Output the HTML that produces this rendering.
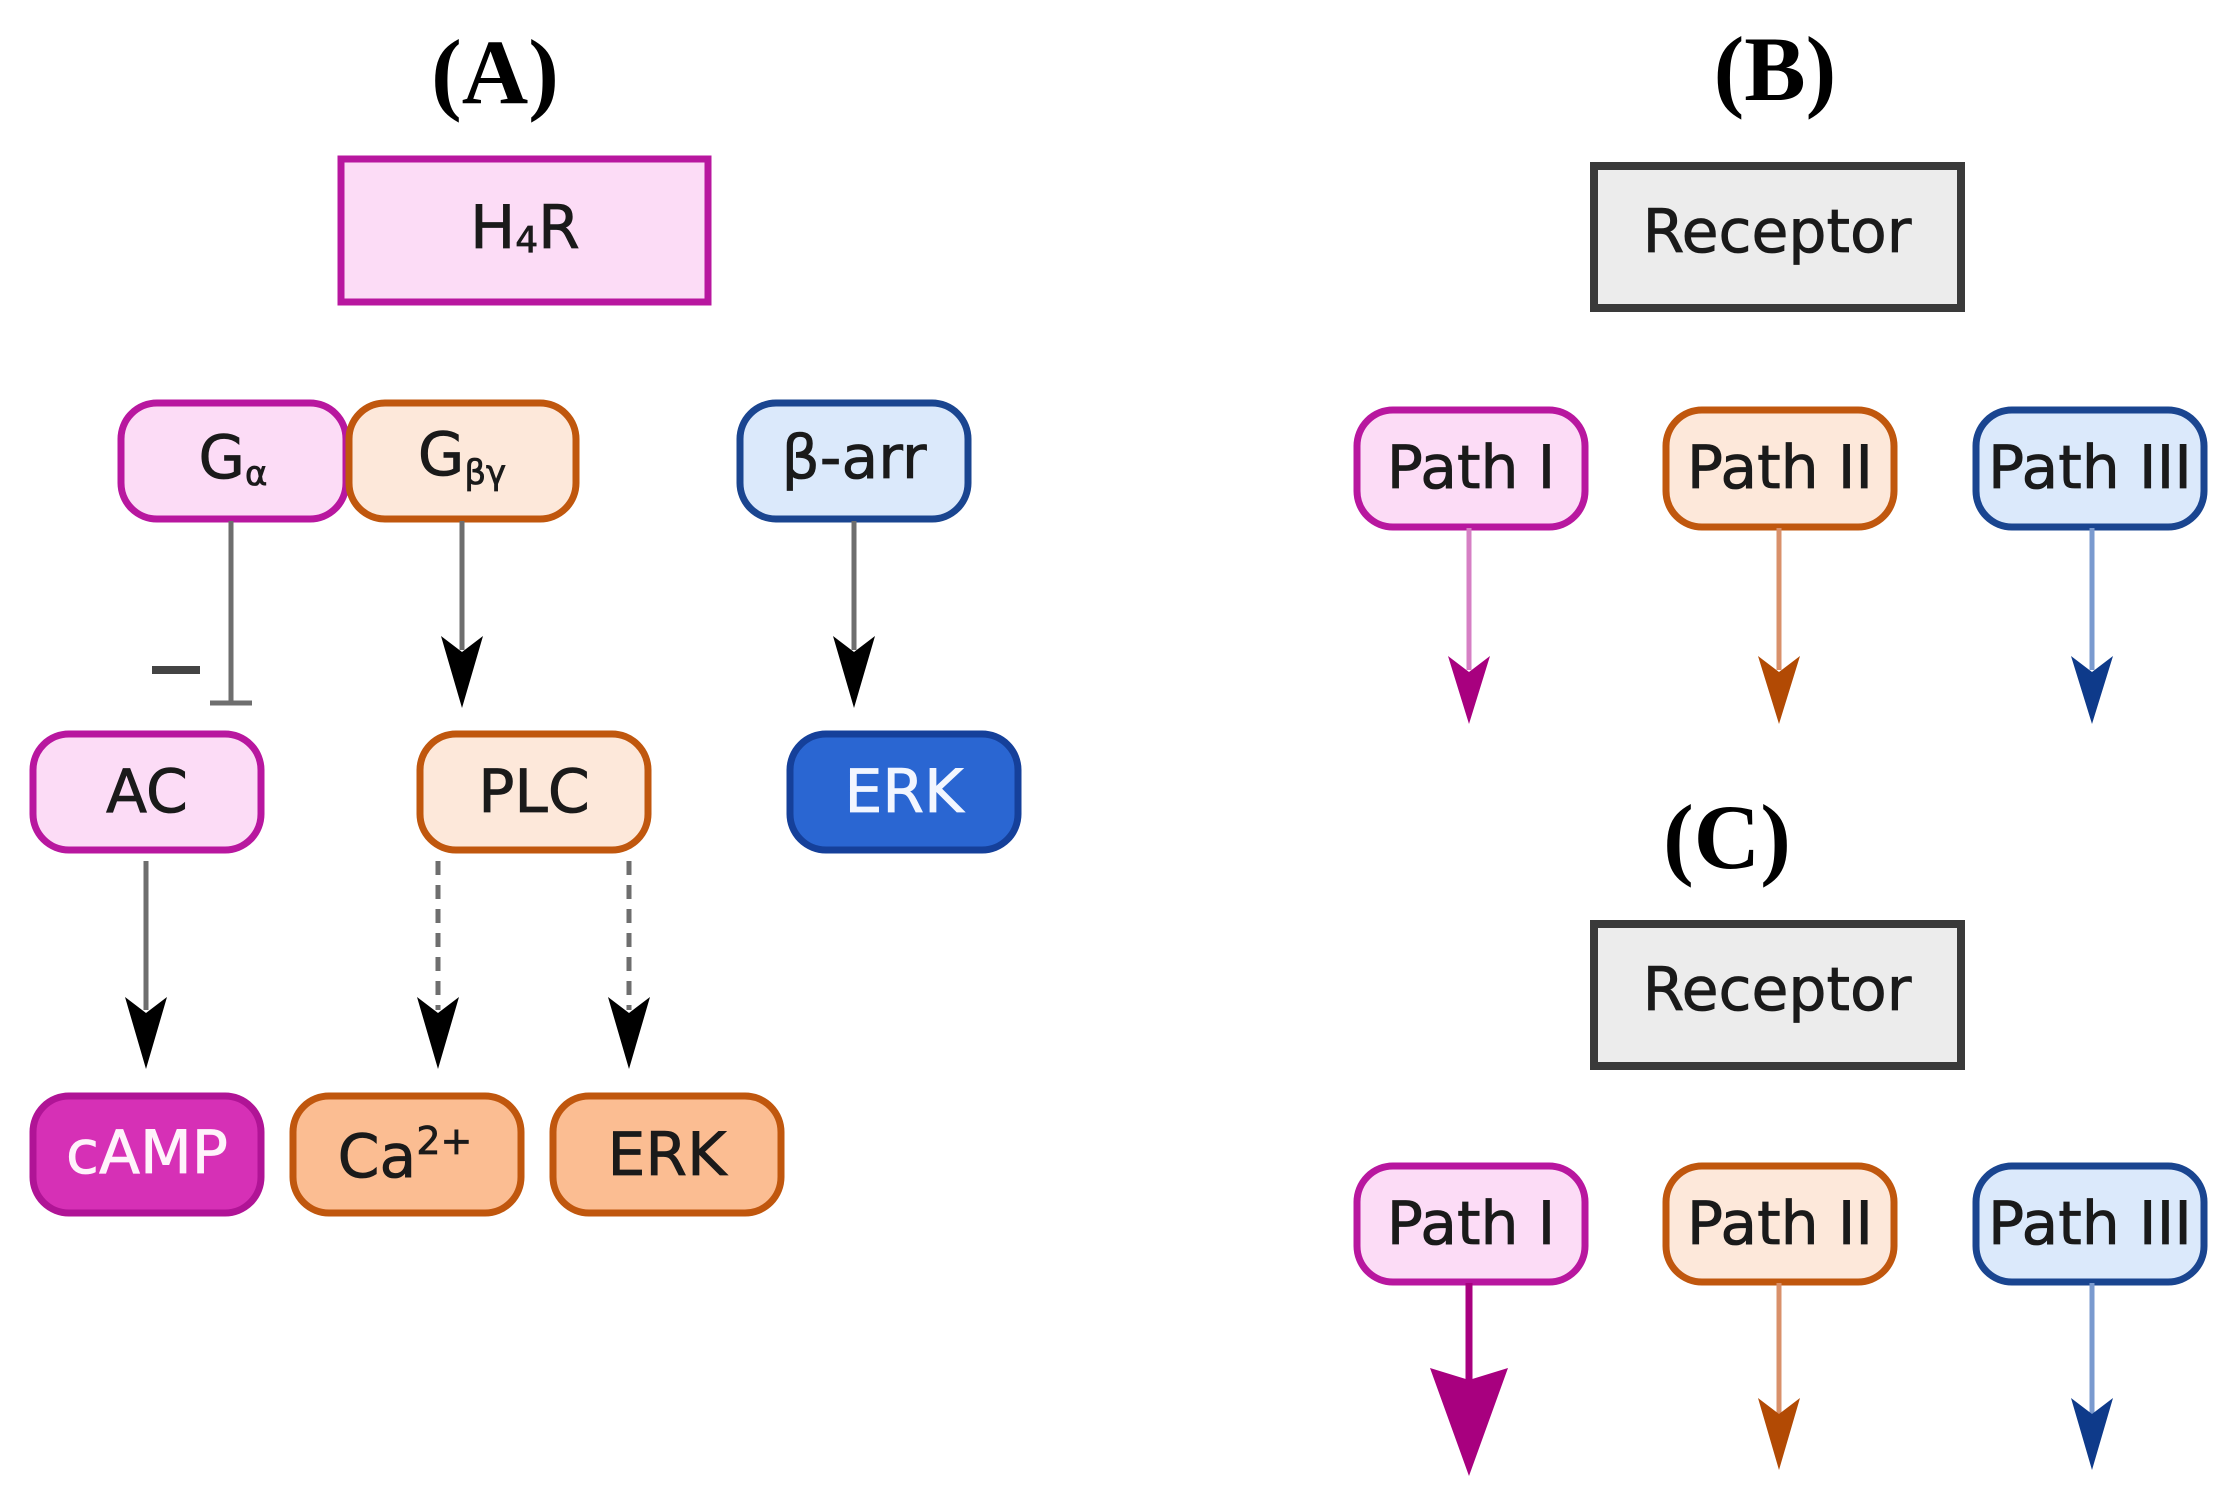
<!DOCTYPE html>
<html><head><meta charset="utf-8"><style>
html,body{margin:0;padding:0;background:#fff;}
svg{display:block;}
.t{font-family:"DejaVu Sans","Liberation Sans",sans-serif;font-size:60px;fill:#1a1a1a;text-anchor:middle;dominant-baseline:central;stroke:#1a1a1a;stroke-width:0.8;}
.L{font-family:"Liberation Serif",serif;font-weight:bold;font-size:92px;fill:#000;text-anchor:middle;dominant-baseline:central;}
</style></head><body>
<svg width="2237" height="1491" viewBox="0 0 2237 1491" xmlns="http://www.w3.org/2000/svg">
<!-- Panel A -->
<text class="L" x="495" y="72">(A)</text>
<rect x="341" y="159" width="367" height="143" fill="#fcdcf6" stroke="#b8179f" stroke-width="7"/>
<text class="t" x="525" y="228">H<tspan font-size="36" dy="12">4</tspan><tspan dy="-12">R</tspan></text>

<rect x="121" y="403" width="225" height="116" rx="36" fill="#fcdcf6" stroke="#b8179f" stroke-width="7"/>
<text class="t" x="233" y="458">G<tspan font-size="34" dy="16">α</tspan></text>
<rect x="349" y="403" width="227" height="116" rx="36" fill="#fde8da" stroke="#c0570e" stroke-width="7"/>
<text class="t" x="462" y="455">G<tspan font-size="34" dy="18">βγ</tspan></text>
<rect x="740" y="403" width="228" height="116" rx="36" fill="#dbe9fb" stroke="#1a4590" stroke-width="7"/>
<text class="t" x="854" y="458">β-arr</text>

<rect x="33" y="734" width="228" height="116" rx="36" fill="#fcdcf6" stroke="#b8179f" stroke-width="7"/>
<text class="t" x="147" y="792">AC</text>
<rect x="420" y="734" width="228" height="116" rx="36" fill="#fde8da" stroke="#c0570e" stroke-width="7"/>
<text class="t" x="534" y="792">PLC</text>
<rect x="790" y="734" width="228" height="116" rx="36" fill="#2a66d2" stroke="#15409a" stroke-width="7"/>
<text class="t" x="904" y="792" style="fill:#f2f6ff;stroke:#f2f6ff">ERK</text>

<rect x="33" y="1096" width="228" height="117" rx="36" fill="#d630b6" stroke="#b01496" stroke-width="7"/>
<text class="t" x="147" y="1153" style="fill:#fff3fb;stroke:#fff3fb">cAMP</text>
<rect x="293" y="1096" width="228" height="117" rx="36" fill="#fbbd92" stroke="#c0570e" stroke-width="7"/>
<text class="t" x="405" y="1157">Ca<tspan font-size="38" dy="-16">2+</tspan></text>
<rect x="553" y="1096" width="228" height="117" rx="36" fill="#fbbd92" stroke="#c0570e" stroke-width="7"/>
<text class="t" x="667" y="1155">ERK</text>

<!-- connectors A -->
<g stroke="#6e6e6e" stroke-width="5" fill="none">
<line x1="231" y1="521" x2="231" y2="702"/>
<line x1="210" y1="703" x2="252" y2="703"/>
<line x1="152" y1="670" x2="200" y2="670" stroke="#444" stroke-width="8"/>
<line x1="462" y1="521" x2="462" y2="650"/>
<line x1="854" y1="521" x2="854" y2="650"/>
<line x1="146" y1="861" x2="146" y2="1010"/>
<line x1="438" y1="861" x2="438" y2="1010" stroke-dasharray="14,10"/>
<line x1="629" y1="861" x2="629" y2="1010" stroke-dasharray="14,10"/>
</g>
<g fill="#000">
<path d="M441 636 L462 652 L483 636 L462 708 Z"/>
<path d="M833 636 L854 652 L875 636 L854 708 Z"/>
<path d="M125 997 L146 1013 L167 997 L146 1069 Z"/>
<path d="M417 997 L438 1013 L459 997 L438 1069 Z"/>
<path d="M608 997 L629 1013 L650 997 L629 1069 Z"/>
</g>

<!-- Panel B -->
<text class="L" x="1775" y="69">(B)</text>
<rect x="1594" y="166" width="367" height="142" fill="#ececec" stroke="#3a3a3a" stroke-width="8"/>
<text class="t" x="1777" y="232">Receptor</text>
<rect x="1357" y="410" width="228" height="117" rx="36" fill="#fcdcf6" stroke="#b8179f" stroke-width="7"/>
<text class="t" x="1471" y="468">Path I</text>
<rect x="1666" y="410" width="228" height="117" rx="36" fill="#fde8da" stroke="#c0570e" stroke-width="7"/>
<text class="t" x="1780" y="468">Path II</text>
<rect x="1976" y="410" width="228" height="117" rx="36" fill="#dbe9fb" stroke="#1a4590" stroke-width="7"/>
<text class="t" x="2090" y="468">Path III</text>
<line x1="1469" y1="528" x2="1469" y2="670" stroke="#d67fc4" stroke-width="5"/>
<path d="M1448 656 L1469 672 L1490 656 L1469 724 Z" fill="#a8007f"/>
<line x1="1779" y1="528" x2="1779" y2="670" stroke="#d9906a" stroke-width="5"/>
<path d="M1758 656 L1779 672 L1800 656 L1779 724 Z" fill="#b24a04"/>
<line x1="2092" y1="528" x2="2092" y2="670" stroke="#7a9acf" stroke-width="5"/>
<path d="M2071 656 L2092 672 L2113 656 L2092 724 Z" fill="#0e3a8a"/>

<!-- Panel C -->
<text class="L" x="1727" y="837">(C)</text>
<rect x="1594" y="924" width="367" height="142" fill="#ececec" stroke="#3a3a3a" stroke-width="8"/>
<text class="t" x="1777" y="990">Receptor</text>
<rect x="1357" y="1166" width="228" height="116" rx="36" fill="#fcdcf6" stroke="#b8179f" stroke-width="7"/>
<text class="t" x="1471" y="1224">Path I</text>
<rect x="1666" y="1166" width="228" height="116" rx="36" fill="#fde8da" stroke="#c0570e" stroke-width="7"/>
<text class="t" x="1780" y="1224">Path II</text>
<rect x="1976" y="1166" width="228" height="116" rx="36" fill="#dbe9fb" stroke="#1a4590" stroke-width="7"/>
<text class="t" x="2090" y="1224">Path III</text>
<line x1="1469" y1="1283" x2="1469" y2="1390" stroke="#a8007f" stroke-width="7"/>
<path d="M1430 1368 L1469 1380 L1508 1368 L1469 1476 Z" fill="#a8007f"/>
<line x1="1779" y1="1283" x2="1779" y2="1420" stroke="#d9906a" stroke-width="5"/>
<path d="M1758 1398 L1779 1414 L1800 1398 L1779 1470 Z" fill="#b24a04"/>
<line x1="2092" y1="1283" x2="2092" y2="1420" stroke="#7a9acf" stroke-width="5"/>
<path d="M2071 1398 L2092 1414 L2113 1398 L2092 1470 Z" fill="#0e3a8a"/>
</svg>
</body></html>
